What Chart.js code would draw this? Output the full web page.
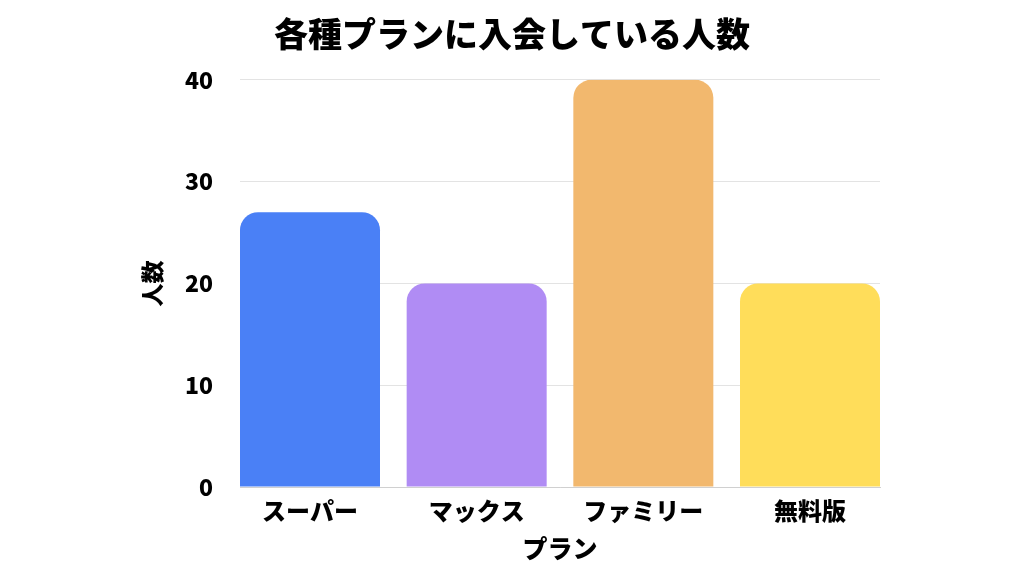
<!DOCTYPE html>
<html>
<head>
<meta charset="utf-8">
<script src="https://cdn.jsdelivr.net/npm/chart.js@4"></script>
<style>
html,body{margin:0;padding:0;background:#fff;}
#wrap{width:1024px;height:576px;}
</style>
</head>
<body>
<div id="wrap"><canvas id="c" width="1024" height="576"></canvas></div>
<script>
const chartTitle = '各種プランに入会している人数';
const xTitle = 'プラン';
const yTitle = '人数';
const categories = ['スーパー', 'マックス', 'ファミリー', '無料版'];
const members = [27, 20, 40, 20];
const barColors = ['#4a80f6', '#b08cf4', '#f2b86e', '#ffdd5a'];
const yTicks = [0, 10, 20, 30, 40];

const FONT = '"Noto Sans CJK JP", "Noto Sans", sans-serif';

new Chart(document.getElementById('c'), {
  type: 'bar',
  data: {
    datasets: [{
      data: categories.map((c, i) => ({x: i, y: members[i]})),
      backgroundColor: barColors,
      borderWidth: 0,
      borderRadius: 18,
      borderSkipped: 'start',
      barPercentage: 0.84,
      categoryPercentage: 1
    }]
  },
  options: {
    responsive: false,
    animation: false,
    devicePixelRatio: 1,
    layout: {padding: 0},
    plugins: {
      legend: {display: false},
      tooltip: {enabled: false},
      title: {
        display: true,
        text: chartTitle,
        color: '#000',
        font: {family: FONT, size: 34, weight: '900'},
        padding: {top: 14, bottom: 25}
      }
    },
    scales: {
      x: {
        type: 'linear',
        offset: false,
        bounds: 'data',
        min: -0.42,
        max: 3.42,
        afterBuildTicks: (s) => { s.ticks = categories.map((c, i) => ({value: i})); },
        afterFit: (s) => { s.height = 89; },
        grid: {display: false, drawTicks: false},
        border: {display: true, color: '#d0d0d0', width: 1},
        ticks: {
          autoSkip: false,
          maxRotation: 0,
          padding: 9,
          color: '#000',
          font: {family: FONT, size: 24, weight: '900'},
          callback: (v) => categories[v]
        },
        title: {
          display: true,
          text: xTitle,
          color: '#000',
          font: {family: FONT, size: 25, weight: '900'},
          padding: {top: 0, bottom: 13}
        }
      },
      y: {
        min: 0,
        max: 40,
        afterBuildTicks: (s) => { s.ticks = yTicks.map(v => ({value: v})); },
        afterFit: (s) => { s.width = 240; },
        grid: {color: '#e3e3e3', drawTicks: false},
        border: {display: false},
        ticks: {
          padding: 27,
          color: '#000',
          font: {family: FONT, size: 23, weight: '900'}
        },
        title: {
          display: true,
          text: yTitle,
          color: '#000',
          font: {family: FONT, size: 23, weight: '900'},
          padding: {top: 138, bottom: 0}
        }
      },
      spacer: {
        type: 'linear',
        position: 'right',
        display: true,
        grid: {display: false, drawTicks: false},
        border: {display: false},
        ticks: {display: false},
        afterFit: (s) => { s.width = 144; }
      }
    }
  }
});
</script>
</body>
</html>
